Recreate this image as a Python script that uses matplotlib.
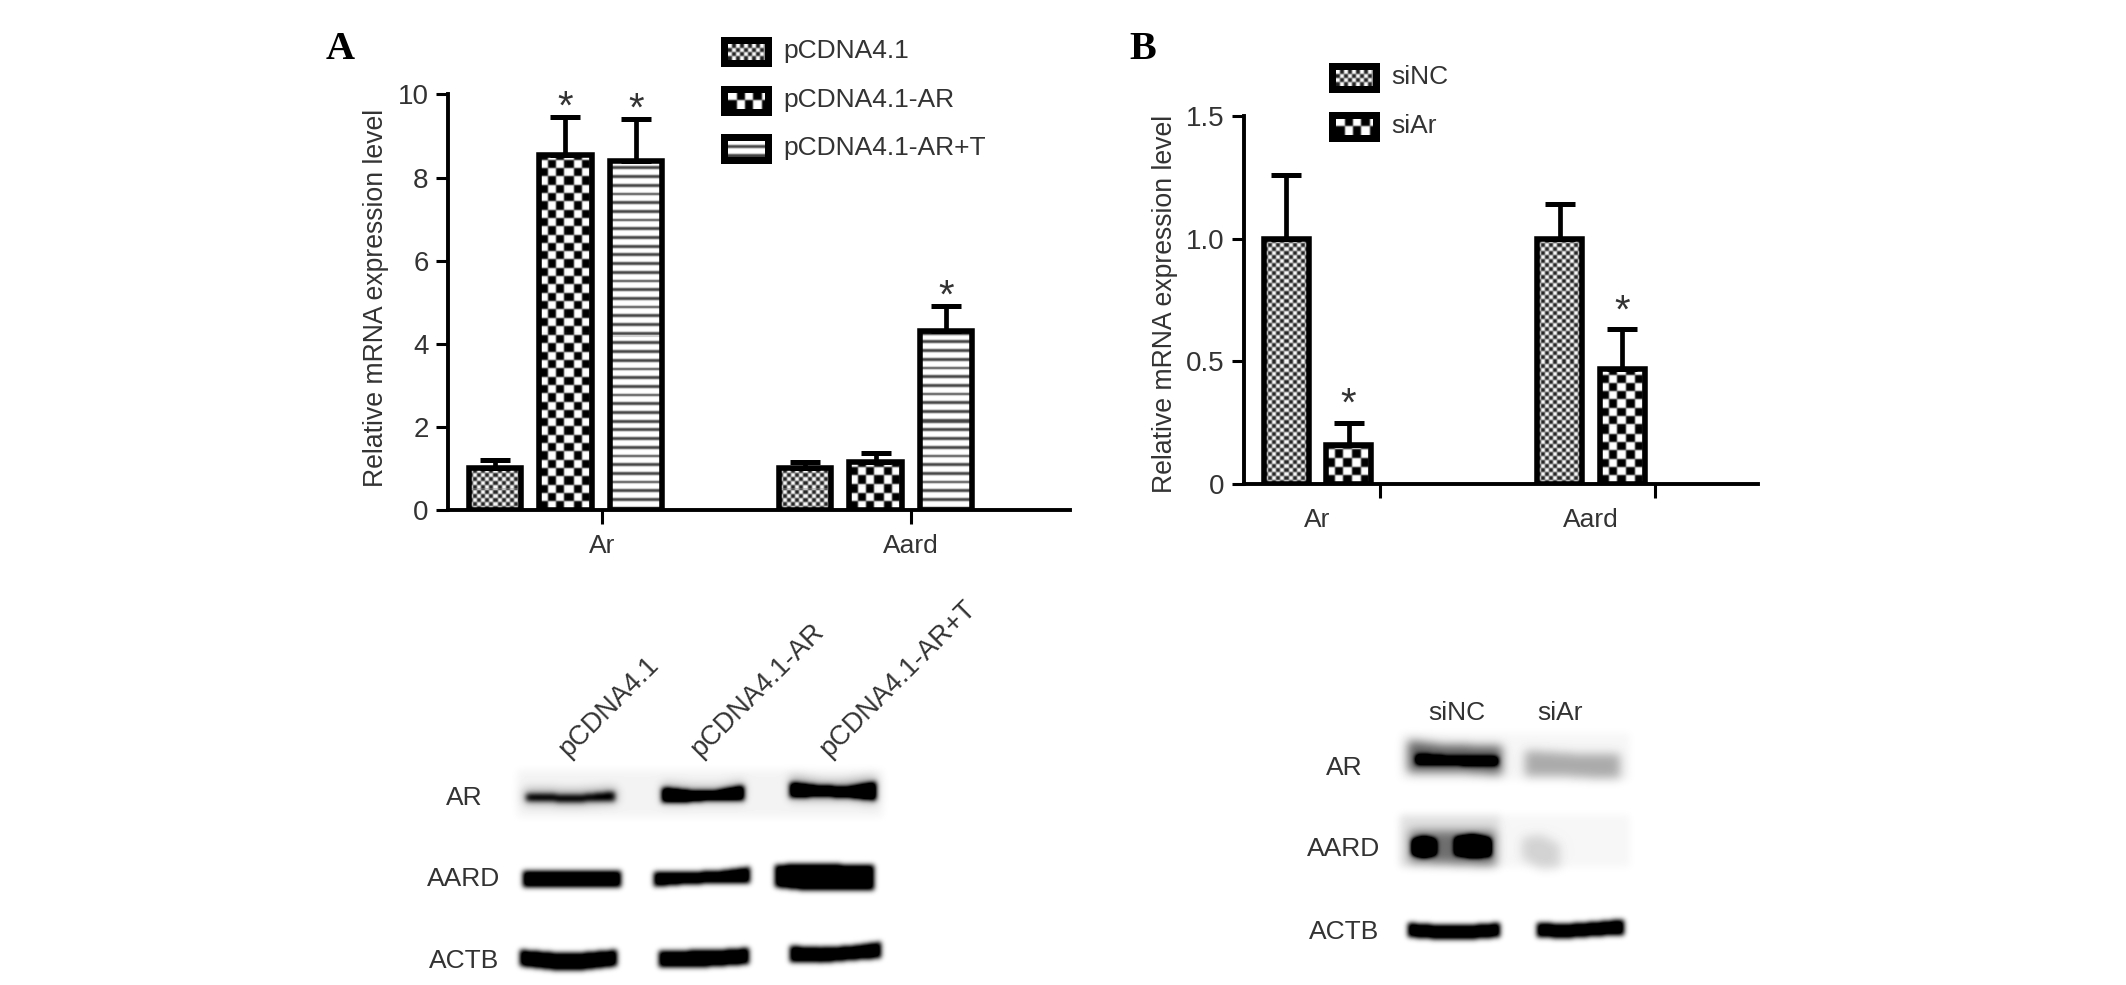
import numpy as np
import matplotlib
matplotlib.use("Agg")
import matplotlib.pyplot as plt
from matplotlib.patches import Rectangle

plt.rcParams["font.family"] = ["Liberation Sans", "DejaVu Sans"]

W, H = 2126, 985
TEXT = "#333333"

# ---- panel A data ----
a_groups = ["Ar", "Aard"]
a_series = ["pCDNA4.1", "pCDNA4.1-AR", "pCDNA4.1-AR+T"]
a_ctrl = [1.0, 1.0]
a_ar = [8.55, 1.15]
a_ar_t = [8.4, 4.3]
a_ctrl_top = [1.2, 1.15]
a_ar_top = [9.45, 1.37]
a_ar_t_top = [9.4, 4.9]
a_yticks = [0, 2, 4, 6, 8, 10]

# ---- panel B data ----
b_groups = ["Ar", "Aard"]
b_series = ["siNC", "siAr"]
b_nc = [1.0, 1.0]
b_si = [0.16, 0.47]
b_nc_top = [1.26, 1.14]
b_si_top = [0.25, 0.63]
b_yticks = [0, 0.5, 1.0, 1.5]
b_yticklabels = ["0", "0.5", "1.0", "1.5"]

# ---- blot labels ----
blot_rows = ["AR", "AARD", "ACTB"]


def blur(img, sigma):
    r = int(3 * sigma) + 1
    k = np.exp(-0.5 * (np.arange(-r, r + 1) / sigma) ** 2)
    k /= k.sum()
    out = np.apply_along_axis(lambda m: np.convolve(m, k, mode="same"), 0, img)
    out = np.apply_along_axis(lambda m: np.convolve(m, k, mode="same"), 1, out)
    return out


def pattern(kind, w, h):
    """Grey-level fill at pixel size, anchored at the bottom of the bar."""
    yy, xx = np.mgrid[0:h, 0:w]
    yy = yy[::-1]
    if kind == "fine":
        img = np.where(((xx // 4) + (yy // 4)) % 2 == 0, 0.12, 1.0)
    elif kind == "coarse":
        img = np.where(((xx // 8.3).astype(int) + (yy // 8.3).astype(int)) % 2 == 0, 0.0, 1.0)
    else:
        img = np.where(yy % 8.7 < 2.8, 0.25, 1.0)
    pad = 6
    img = np.pad(img, pad, mode="reflect")
    return blur(img, 0.8)[pad:-pad, pad:-pad]


def bar_group(ax, x, vals, tops, kind, width):
    bars = ax.bar(x, vals, width, facecolor="none", edgecolor="black", linewidth=4, zorder=3)
    for b in bars:
        x0, x1 = b.get_x(), b.get_x() + b.get_width()
        p0 = ax.transData.transform((x0, 0))
        p1 = ax.transData.transform((x1, b.get_height()))
        img = pattern(kind, int(p1[0] - p0[0]), int(p1[1] - p0[1]))
        ax.imshow(img, extent=(x0, x1, 0, b.get_height()), cmap="gray", vmin=0, vmax=1,
                  aspect="auto", interpolation="nearest", zorder=1)
    err = np.array(tops) - np.array(vals)
    ax.errorbar(x, vals, yerr=[np.zeros(len(vals)), err], fmt="none", ecolor="black",
                elinewidth=3.4, capsize=11, capthick=3.6, zorder=2)


def style_axis(ax, yticks, yticklabels, ylabel, ylabel_y):
    for s in ["top", "right"]:
        ax.spines[s].set_visible(False)
    for s in ["left", "bottom"]:
        ax.spines[s].set_linewidth(2.8)
    ax.patch.set_visible(False)
    ax.set_yticks(yticks, yticklabels)
    ax.xaxis.remove_overlapping_locs = False
    ax.tick_params(axis="y", length=9, width=2.2, labelsize=20, labelcolor=TEXT, pad=5)
    ax.tick_params(axis="x", which="major", length=10, width=2.2, labelbottom=False)
    ax.tick_params(axis="x", which="minor", length=0, labelsize=19, labelcolor=TEXT, pad=17)
    ax.set_ylabel(ylabel, fontsize=19.2, color=TEXT, y=ylabel_y, labelpad=6)


def px_axes(left, right, top, bottom):
    return fig.add_axes([left / W, 1 - bottom / H, (right - left) / W, (bottom - top) / H])


def stars(ax, x, tops, offset):
    for xi, t in zip(x, tops):
        ax.annotate("*", xy=(xi, t), xytext=(0, offset), textcoords="offset points",
                    ha="center", va="baseline", fontsize=29, color=TEXT)


def legend_box(ov, x, y, kind, label):
    ov.add_patch(Rectangle((x, y), 51, 30, facecolor="black", edgecolor="none", zorder=2))
    ov.imshow(pattern(kind, 37, 16), extent=(x + 7, x + 44, y + 23, y + 7), cmap="gray", vmin=0, vmax=1,
              aspect="auto", interpolation="nearest", zorder=3)
    ov.text(x + 62, y + 14, label, fontsize=19, color=TEXT, va="center", ha="left")


def band(D, x0, x1, centres, thick, dark):
    xs = np.arange(x0, x1)
    t = np.linspace(0, 1, len(centres))
    c = np.interp(np.linspace(0, 1, len(xs)), t, centres)
    th = np.interp(np.linspace(0, 1, len(xs)), t, thick)
    for xi, ci, ti in zip(xs, c, th):
        y0, y1 = int(ci - ti / 2), int(ci + ti / 2) + 1
        D[y0:y1, xi] = np.maximum(D[y0:y1, xi], dark)


def draw_blots(ov):
    D = np.zeros((H, W))
    # faint membrane background
    D[770:817, 517:883] = 0.045
    D[733:780, 1400:1630] = 0.035
    D[815:867, 1400:1500] = 0.12
    D[815:867, 1500:1630] = 0.035
    D = blur(D, 4.0)

    # soft halos
    S = np.zeros((H, W))
    band(S, 1408, 1502, [756, 758, 759, 760], [30, 26, 26, 28], 0.6)
    band(S, 1525, 1620, [763, 764, 766, 766], [24, 22, 22, 24], 0.3)
    band(S, 1410, 1495, [846, 847, 848], [30, 32, 34], 0.45)
    band(S, 1522, 1560, [848, 852, 856], [20, 34, 22], 0.14)
    band(S, 662, 744, [793, 794, 794, 791], [20, 16, 14, 20], 0.25)
    band(S, 790, 876, [788, 790, 790, 790], [24, 18, 18, 26], 0.3)
    band(S, 524, 617, [796, 797, 797, 795], [14, 14, 14, 14], 0.3)
    S = blur(S, 5.0)

    B = np.zeros((H, W))
    # panel A, AR
    band(B, 526, 615, [797, 798, 798, 796], [6, 6, 6, 8], 0.6)
    band(B, 662, 744, [795, 796, 795, 793], [14, 10, 8, 14], 1.0)
    band(B, 790, 876, [790, 791, 792, 791], [14, 9, 9, 17], 1.0)
    # panel A, AARD
    band(B, 523, 621, [879, 879, 879, 879], [15, 15, 15, 15], 1.0)
    band(B, 654, 750, [879, 878, 877, 875], [14, 11, 11, 15], 1.0)
    band(B, 775, 874, [876, 877, 877, 877], [21, 26, 24, 24], 1.0)
    # panel A, ACTB
    band(B, 520, 617, [958, 961, 961, 958], [15, 16, 16, 15], 1.0)
    band(B, 659, 749, [959, 959, 958, 956], [15, 16, 15, 15], 1.0)
    band(B, 790, 881, [954, 955, 953, 950], [15, 14, 13, 15], 1.0)
    # panel B, AR
    band(B, 1416, 1498, [759, 760, 761, 761], [8, 6, 7, 8], 0.8)
    # panel B, AARD
    band(B, 1412, 1436, [847, 847, 847], [14, 20, 14], 1.0)
    band(B, 1455, 1491, [846, 846, 847], [16, 22, 16], 1.0)
    # panel B, ACTB
    band(B, 1408, 1500, [930, 932, 932, 930], [13, 13, 13, 13], 1.0)
    band(B, 1537, 1624, [930, 931, 929, 927], [13, 13, 13, 14], 1.0)
    B = blur(B, 2.6)

    img = 1 - np.clip(D + S + 1.3 * B, 0, 1)
    ov.imshow(img, extent=(0, W, H, 0), cmap="gray", vmin=0, vmax=1, aspect="auto",
              interpolation="bilinear", zorder=0)


fig = plt.figure(figsize=(W / 100, H / 100), dpi=100)

# ---- panel A chart ----
ax_a = px_axes(448, 1070, 94.5, 510)
ax_a.set_xlim(-0.667, 8.16)
ax_a.set_ylim(0, 10)
ax_a.set_autoscale_on(False)
a_x = np.array([0.0, 4.4])
bar_group(ax_a, a_x, a_ctrl, a_ctrl_top, "fine", 0.74)
bar_group(ax_a, a_x + 1, a_ar, a_ar_top, "coarse", 0.74)
bar_group(ax_a, a_x + 2, a_ar_t, a_ar_t_top, "stripe", 0.74)
ax_a.set_xlim(-0.667, 8.16)
ax_a.set_ylim(0, 10)
stars(ax_a, [1, 2, 6.4], [a_ar_top[0], a_ar_t_top[0], a_ar_t_top[1]], -1)
ax_a.set_xticks([1.52, 5.9])
ax_a.set_xticks([1.52, 5.9], a_groups, minor=True)
style_axis(ax_a, a_yticks, [str(v) for v in a_yticks], "Relative mRNA expression level", 0.51)

# ---- panel B chart ----
ax_b = px_axes(1244, 1758, 116, 484)
ax_b.set_xlim(-0.672, 7.55)
ax_b.set_ylim(0, 1.5)
ax_b.set_autoscale_on(False)
b_x = np.array([0.0, 4.38])
bar_group(ax_b, b_x, b_nc, b_nc_top, "fine", 0.72)
bar_group(ax_b, b_x + 1, b_si, b_si_top, "coarse", 0.72)
ax_b.set_xlim(-0.672, 7.55)
ax_b.set_ylim(0, 1.5)
stars(ax_b, b_x + 1, b_si_top, 5)
ax_b.set_xticks([1.504, 5.904])
ax_b.set_xticks([0.496, 4.88], b_groups, minor=True)
style_axis(ax_b, b_yticks, b_yticklabels, "Relative mRNA expression level", 0.49)

# ---- overlay in pixel coordinates: blots, legends, labels ----
ov = fig.add_axes([0, 0, 1, 1], zorder=-1)
ov.set_xlim(0, W)
ov.set_ylim(H, 0)
ov.set_autoscale_on(False)
ov.axis("off")
draw_blots(ov)

ov.text(326, 59, "A", family="Liberation Serif", weight="bold", fontsize=29, va="baseline")
ov.text(1129, 59, "B", family="Liberation Serif", weight="bold", fontsize=29, va="baseline")

for y, kind, label in zip([37, 86, 134], ["fine", "coarse", "stripe"], a_series):
    legend_box(ov, 721, y, kind, label)
for y, kind, label in zip([63, 112], ["fine", "coarse"], b_series):
    legend_box(ov, 1329, y, kind, label)

for y, label in zip([798, 879, 961], blot_rows):
    ov.text(464, y, label, fontsize=19, color=TEXT, ha="center", va="center")
for y, label in zip([768, 849, 932], blot_rows):
    ov.text(1344, y, label, fontsize=19, color=TEXT, ha="center", va="center")
for x, label in zip([568, 700, 829], a_series):
    ov.text(x, 758, label, fontsize=19.5, color=TEXT, rotation=45, rotation_mode="anchor",
            ha="left", va="baseline")
for x, label in zip([1457, 1560], b_series):
    ov.text(x, 713, label, fontsize=19, color=TEXT, ha="center", va="center")

fig.savefig("out.png", dpi=100)
